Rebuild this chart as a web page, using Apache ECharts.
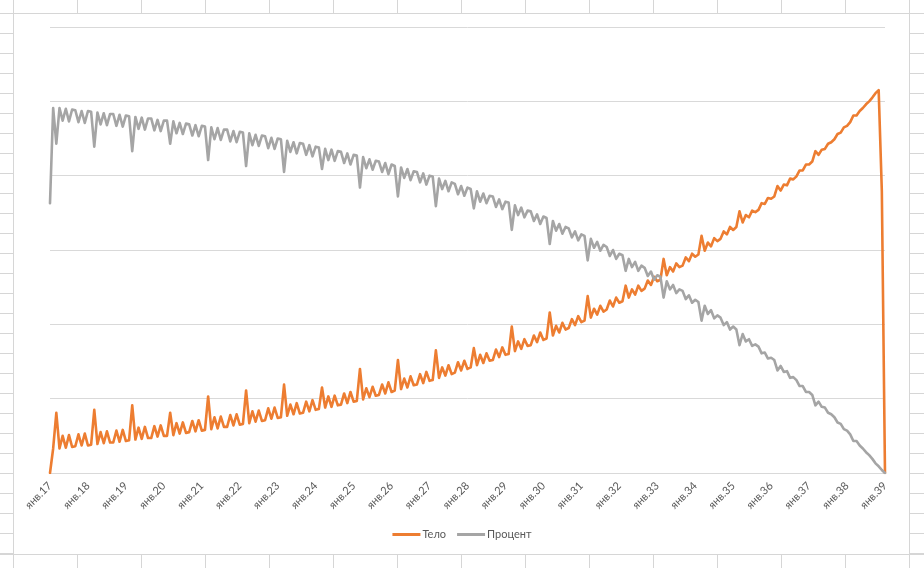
<!DOCTYPE html>
<html>
<head>
<meta charset="utf-8">
<script src="https://cdn.jsdelivr.net/npm/echarts@6/dist/echarts.min.js"></script>
<style>
html,body{margin:0;padding:0;background:#fff;}
#chart{width:924px;height:568px;}
</style>
</head>
<body>
<div id="chart"></div>
<script>
// ---- data ----
var monthNames = ['янв.','февр.','март','апр.','май','июнь','июль','авг.','сент.','окт.','нояб.','дек.'];
var startYear = 2017, endYear = 2039;

var teloByYear = {
  2017: [0, .33, .81, .33, .50, .34, .51, .35, .36, .52, .37, .53],
  2018: [.37, .38, .85, .39, .55, .40, .56, .41, .41, .57, .42, .58],
  2019: [.43, .44, .91, .45, .61, .46, .62, .47, .47, .63, .49, .64],
  2020: [.50, .50, .81, .51, .67, .53, .68, .54, .55, .70, .56, .71],
  2021: [.57, .58, 1.03, .59, .75, .60, .76, .62, .62, .78, .64, .79],
  2022: [.65, .66, 1.11, .67, .83, .69, .84, .70, .71, .87, .73, .88],
  2023: [.74, .75, 1.19, .77, .92, .79, .94, .80, .81, .96, .83, .98],
  2024: [.85, .86, 1.15, .88, 1.03, .89, 1.04, .91, .92, 1.07, .94, 1.09],
  2025: [.96, .97, 1.40, .99, 1.14, 1.02, 1.16, 1.04, 1.05, 1.19, 1.07, 1.22],
  2026: [1.09, 1.11, 1.52, 1.13, 1.27, 1.15, 1.30, 1.18, 1.19, 1.33, 1.21, 1.36],
  2027: [1.24, 1.25, 1.65, 1.28, 1.42, 1.31, 1.45, 1.33, 1.35, 1.49, 1.38, 1.51],
  2028: [1.40, 1.42, 1.68, 1.45, 1.59, 1.48, 1.61, 1.51, 1.52, 1.66, 1.56, 1.69],
  2029: [1.59, 1.60, 1.97, 1.64, 1.77, 1.67, 1.80, 1.71, 1.72, 1.85, 1.76, 1.89],
  2030: [1.79, 1.81, 2.16, 1.85, 1.98, 1.89, 2.02, 1.93, 1.95, 2.07, 1.99, 2.11],
  2031: [2.03, 2.05, 2.38, 2.09, 2.21, 2.13, 2.25, 2.17, 2.20, 2.32, 2.24, 2.36],
  2032: [2.29, 2.31, 2.52, 2.36, 2.47, 2.40, 2.52, 2.45, 2.48, 2.59, 2.53, 2.64],
  2033: [2.58, 2.60, 2.88, 2.66, 2.77, 2.71, 2.82, 2.77, 2.79, 2.90, 2.85, 2.95],
  2034: [2.91, 2.94, 3.19, 2.99, 3.10, 3.05, 3.16, 3.12, 3.15, 3.25, 3.21, 3.31],
  2035: [3.27, 3.31, 3.52, 3.37, 3.47, 3.44, 3.53, 3.51, 3.54, 3.63, 3.62, 3.70],
  2036: [3.69, 3.72, 3.86, 3.80, 3.88, 3.87, 3.96, 3.95, 3.99, 4.07, 4.07, 4.15],
  2037: [4.15, 4.19, 4.33, 4.28, 4.35, 4.36, 4.43, 4.45, 4.49, 4.56, 4.58, 4.65],
  2038: [4.67, 4.72, 4.81, 4.81, 4.87, 4.91, 4.96, 5.00, 5.05, 5.11, 5.15, 3.79],
  2039: [0]
};

var procentByYear = {
  2017: [3.63, 4.91, 4.43, 4.91, 4.74, 4.90, 4.73, 4.89, 4.88, 4.72, 4.87, 4.71],
  2018: [4.87, 4.86, 4.39, 4.85, 4.69, 4.84, 4.68, 4.83, 4.83, 4.67, 4.82, 4.66],
  2019: [4.81, 4.80, 4.33, 4.79, 4.63, 4.78, 4.62, 4.77, 4.77, 4.61, 4.75, 4.60],
  2020: [4.74, 4.74, 4.43, 4.73, 4.57, 4.71, 4.56, 4.70, 4.69, 4.54, 4.68, 4.53],
  2021: [4.67, 4.66, 4.21, 4.65, 4.49, 4.64, 4.48, 4.62, 4.62, 4.46, 4.60, 4.45],
  2022: [4.59, 4.58, 4.13, 4.57, 4.41, 4.55, 4.40, 4.54, 4.53, 4.37, 4.51, 4.36],
  2023: [4.50, 4.49, 4.05, 4.47, 4.32, 4.45, 4.30, 4.44, 4.43, 4.28, 4.41, 4.26],
  2024: [4.39, 4.38, 4.09, 4.36, 4.21, 4.35, 4.20, 4.33, 4.32, 4.17, 4.30, 4.15],
  2025: [4.28, 4.27, 3.84, 4.25, 4.10, 4.22, 4.08, 4.20, 4.19, 4.05, 4.17, 4.02],
  2026: [4.15, 4.13, 3.72, 4.11, 3.97, 4.09, 3.94, 4.06, 4.05, 3.91, 4.03, 3.88],
  2027: [4.00, 3.99, 3.59, 3.96, 3.82, 3.93, 3.79, 3.91, 3.89, 3.75, 3.86, 3.73],
  2028: [3.84, 3.82, 3.56, 3.79, 3.65, 3.76, 3.63, 3.73, 3.72, 3.58, 3.68, 3.55],
  2029: [3.65, 3.64, 3.27, 3.60, 3.47, 3.57, 3.44, 3.53, 3.52, 3.39, 3.48, 3.35],
  2030: [3.45, 3.43, 3.08, 3.39, 3.26, 3.35, 3.22, 3.31, 3.29, 3.17, 3.25, 3.13],
  2031: [3.21, 3.19, 2.86, 3.15, 3.03, 3.11, 2.99, 3.07, 3.04, 2.92, 3.00, 2.88],
  2032: [2.95, 2.93, 2.72, 2.88, 2.77, 2.84, 2.72, 2.79, 2.76, 2.65, 2.71, 2.60],
  2033: [2.66, 2.64, 2.36, 2.58, 2.47, 2.53, 2.42, 2.47, 2.45, 2.34, 2.39, 2.29],
  2034: [2.33, 2.30, 2.05, 2.25, 2.14, 2.19, 2.08, 2.12, 2.09, 1.99, 2.03, 1.93],
  2035: [1.97, 1.93, 1.72, 1.87, 1.77, 1.80, 1.71, 1.73, 1.70, 1.61, 1.62, 1.54],
  2036: [1.55, 1.52, 1.38, 1.44, 1.36, 1.37, 1.28, 1.29, 1.25, 1.17, 1.17, 1.09],
  2037: [1.09, 1.05, 0.91, 0.96, 0.89, 0.88, 0.81, 0.79, 0.75, 0.68, 0.66, 0.59],
  2038: [0.57, 0.52, 0.43, 0.43, 0.37, 0.33, 0.28, 0.24, 0.19, 0.13, 0.09, 0.04],
  2039: [0]
};

var seriesNames = ['Тело', 'Процент'];

// ---- build categories / flat series ----
var categories = [], telo = [], procent = [];
for (var y = startYear; y <= endYear; y++) {
  var t = teloByYear[y], p = procentByYear[y];
  for (var m = 0; m < t.length; m++) {
    categories.push(monthNames[m] + String(y).slice(2));
    telo.push(t[m]);
    procent.push(p[m]);
  }
}

// ---- spreadsheet cell grid decoration ----
var cellColor = '#d6d6d6';
var deco = [];
function hline(x1, x2, yy) { deco.push({type:'line', silent:true, z:-10, shape:{x1:x1,y1:yy,x2:x2,y2:yy}, style:{stroke:cellColor, lineWidth:1}}); }
function vline(xx, y1, y2) { deco.push({type:'line', silent:true, z:-10, shape:{x1:xx,y1:y1,x2:xx,y2:y2}, style:{stroke:cellColor, lineWidth:1}}); }
var L = 13.5, R = 909.5, T = 13.5, B = 554.5;
hline(0, 924, T); hline(0, 924, B);
vline(L, 0, 568); vline(R, 0, 568);
for (var cx = L + 64; cx < 924; cx += 64) { vline(cx, 0, T); vline(cx, B, 568); }
for (var ry = T + 20; ry < B; ry += 20) { hline(0, L, ry); hline(R, 924, ry); }

var chart = echarts.init(document.getElementById('chart'), null, {renderer:'canvas'});
chart.setOption({
  animation: false,
  backgroundColor: '#ffffff',
  textStyle: {fontFamily: 'Lato, "Noto Sans", sans-serif'},
  graphic: deco,
  color: ['#ED7D31', '#A5A5A5'],
  grid: {left: 50, right: 39, top: 27, bottom: 95, containLabel: false},
  legend: {
    data: seriesNames,
    bottom: 23,
    left: 'center',
    icon: 'rect',
    itemWidth: 28,
    itemHeight: 3,
    itemGap: 11,
    textStyle: {fontSize: 11, color: '#595959', padding: [0, 0, 0, -3]}
  },
  xAxis: {
    type: 'category',
    data: categories,
    boundaryGap: false,
    axisLine: {lineStyle: {color: '#d9d9d9', width: 1}},
    axisTick: {show: false},
    axisLabel: {interval: 11, rotate: 45, fontSize: 11, color: '#595959', margin: 11},
    splitLine: {show: false}
  },
  yAxis: {
    type: 'value',
    min: 0, max: 6, interval: 1,
    axisLine: {show: false},
    axisTick: {show: false},
    axisLabel: {show: false},
    splitLine: {lineStyle: {color: '#d9d9d9', width: 1}}
  },
  series: [
    {name: seriesNames[0], type: 'line', data: telo, symbol: 'none', lineStyle: {width: 2.6, cap: 'round', join: 'round'}},
    {name: seriesNames[1], type: 'line', data: procent, symbol: 'none', lineStyle: {width: 2.6, cap: 'round', join: 'round'}}
  ]
});
</script>
</body>
</html>
